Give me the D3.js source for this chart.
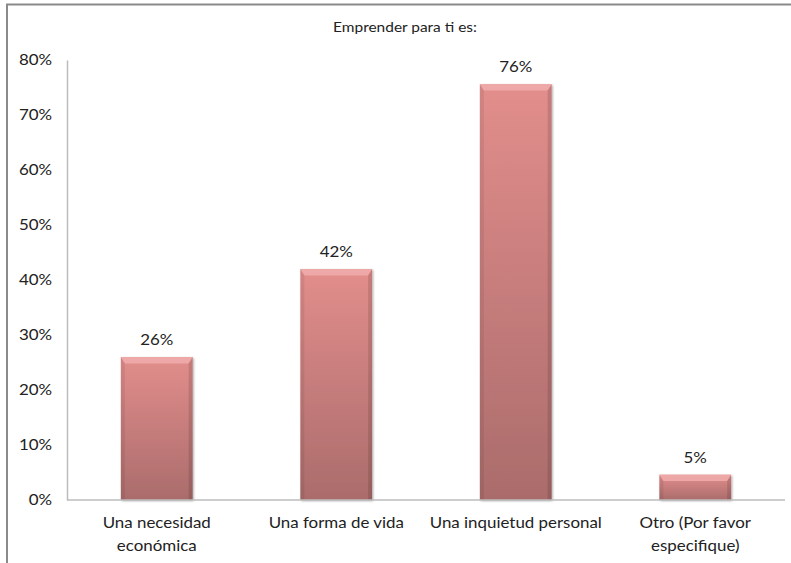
<!DOCTYPE html>
<html><head><meta charset="utf-8">
<script src="https://cdn.jsdelivr.net/npm/d3@7"></script>
<style>body{margin:0;background:#fff}svg{display:block}text{font-family:Lato,"Open Sans",sans-serif;fill:#222}</style>
</head><body><div id="chart"></div>
<script>
const title = "Emprender para ti es:";
const categories = [["Una necesidad","económica"],["Una forma de vida"],["Una inquietud personal"],["Otro (Por favor","especifique)"]];
const values = [0.26, 0.42, 0.756, 0.046];
const yTicks = [0,0.1,0.2,0.3,0.4,0.5,0.6,0.7,0.8];

const W=791,H=563, SX=1.15;
const svg=d3.select("#chart").append("svg").attr("width",W).attr("height",H);
const defs=svg.append("defs");
const g1=defs.append("linearGradient").attr("id","bg").attr("x1",0).attr("y1",0).attr("x2",0).attr("y2",1);
g1.append("stop").attr("offset","0%").attr("stop-color","#e28e8c");
g1.append("stop").attr("offset","100%").attr("stop-color","#aa6c6b");
const f=defs.append("filter").attr("id","sh").attr("x","-20%").attr("y","-20%").attr("width","140%").attr("height","140%");
f.append("feDropShadow").attr("dx",1).attr("dy",1).attr("stdDeviation",1.2).attr("flood-color","#000").attr("flood-opacity",0.35);

function stretched(parent, x, y, txt, size, sx){
  return parent.append("text").attr("transform",`translate(${x},${y}) scale(${sx},1)`)
    .attr("text-anchor","middle").style("font-size",size+"px").text(txt);
}

// outer border
svg.append("rect").attr("x",7).attr("y",4.5).attr("width",W+20).attr("height",H+20).attr("fill","none").attr("stroke","#8a8a8a").attr("stroke-width",2);

const pLeft=67,pRight=785,pTop=60,pBottom=500;
const x=d3.scaleBand().domain(d3.range(categories.length)).range([pLeft,pRight]).paddingInner(0.6).paddingOuter(0.3);
const y=d3.scaleLinear().domain([0,0.8]).range([pBottom,pTop]);

stretched(svg,405,32,title,13,1.19);

// y axis
const ya=svg.append("g").attr("transform",`translate(${pLeft},0)`).call(d3.axisLeft(y).tickValues(yTicks).tickFormat(d3.format(".0%")).tickSize(0).tickPadding(13));
ya.select(".domain").attr("stroke","#bdbdbd").attr("stroke-width",1.5);
ya.selectAll("text").style("font-size","14.7px").attr("fill","#222").style("font-family","Lato,'Open Sans',sans-serif").attr("transform",`scale(${SX},1)`);

// bars
const bw=x.bandwidth();
const bars=svg.append("g").selectAll("g").data(values).join("g");
bars.append("rect").attr("x",(d,i)=>x(i)).attr("y",d=>y(d)).attr("width",bw).attr("height",d=>pBottom-y(d)).attr("fill","url(#bg)").attr("filter","url(#sh)");
const b=4;
bars.append("path").attr("d",(d,i)=>{const x0=x(i),y0=y(d);return `M${x0},${y0}L${x0+bw},${y0}L${x0+bw-b},${y0+b*1.6}L${x0+b},${y0+b*1.6}Z`;}).attr("fill","#f0adab").attr("opacity",0.85);
bars.append("path").attr("d",(d,i)=>{const x0=x(i),y0=y(d);return `M${x0},${y0}L${x0+b},${y0+b*1.6}L${x0+b},${pBottom}L${x0},${pBottom}Z`;}).attr("fill","#000").attr("opacity",0.07);
bars.append("path").attr("d",(d,i)=>{const x0=x(i)+bw,y0=y(d);return `M${x0},${y0}L${x0-b},${y0+b*1.6}L${x0-b},${pBottom}L${x0},${pBottom}Z`;}).attr("fill","#000").attr("opacity",0.12);

// value labels
const vl=svg.append("g");
values.forEach((d,i)=>stretched(vl,x(i)+bw/2,y(d)-12,d3.format(".0%")(d),14.7,SX));

// x axis
svg.append("line").attr("x1",pLeft).attr("x2",pRight).attr("y1",pBottom).attr("y2",pBottom).attr("stroke","#bdbdbd").attr("stroke-width",1.5);
const cl=svg.append("g");
categories.forEach((lines,i)=>lines.forEach((t,j)=>stretched(cl,x(i)+bw/2,528+j*23,t,14.7,SX)));
</script></body></html>
